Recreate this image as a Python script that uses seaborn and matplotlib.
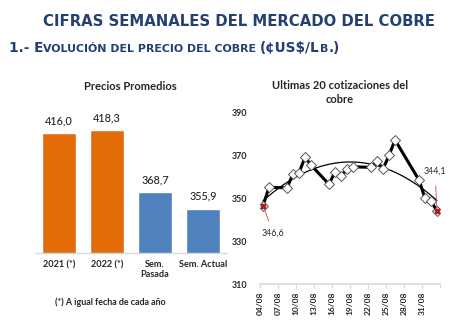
import numpy as np
import pandas as pd
import matplotlib
matplotlib.use("Agg")
import matplotlib.pyplot as plt
import matplotlib.dates as mdates
import seaborn as sns

# ---------------- data ----------------
bar_categories = ["2021 (*)", "2022 (*)", "Sem.\nPasada", "Sem. Actual"]
bar_values = [416.0, 418.3, 368.7, 355.9]
bar_labels = ["416,0", "418,3", "368,7", "355,9"]

quote_dates = ["2022-08-04", "2022-08-05", "2022-08-08", "2022-08-09", "2022-08-10",
               "2022-08-11", "2022-08-12", "2022-08-15", "2022-08-16", "2022-08-17",
               "2022-08-18", "2022-08-19", "2022-08-22", "2022-08-23", "2022-08-24",
               "2022-08-25", "2022-08-26", "2022-08-30", "2022-08-31", "2022-09-01",
               "2022-09-02"]
quote_values = [346.6, 355.2, 355.0, 361.4, 362.0,
                369.2, 365.6, 356.6, 362.5, 360.5,
                363.7, 364.8, 364.5, 367.6, 363.7,
                370.1, 377.3, 358.6, 350.1, 348.8,
                344.1]
first_label = "346,6"
last_label = "344,1"
y_ticks = [310, 330, 350, 370, 390]

# ---------------- style ----------------
sns.set_theme(style="white")
plt.rcParams['font.family'] = ['Lato', 'DejaVu Sans']

W, H = 477, 327
fig = plt.figure(figsize=(W / 100, H / 100), dpi=100)
fig.patch.set_facecolor("white")

title_blue = "#243F72"
text_dark = "#262626"

# ---------------- header ----------------
fig.text(238.5 / W, 1 - 22 / H, "CIFRAS SEMANALES DEL MERCADO DEL COBRE",
         ha="center", va="center", fontsize=10.7, fontweight="bold",
         color=title_blue, family="DejaVu Sans")

# small caps subtitle built from pieces
pieces = [("1.- E", 9.8), ("VOLUCIÓN DEL PRECIO DEL COBRE ", 7.9),
          ("(¢US$/L", 9.8), ("B", 7.9), (".)", 9.8)]
renderer = fig.canvas.get_renderer()
x_px = 9
base_y = 1 - 52 / H
for txt, sz in pieces:
    t = fig.text(x_px / W, base_y, txt, ha="left", va="baseline", fontsize=sz,
                 fontweight="bold", color=title_blue, family="DejaVu Sans")
    bb = t.get_window_extent(renderer=renderer)
    x_px += bb.width

# ---------------- left: bar chart ----------------
axL = fig.add_axes([35 / W, 1 - 253 / H, 192 / W, 153 / H])
df_bar = pd.DataFrame({"cat": bar_categories, "val": bar_values})
bar_colors = ["#E46C0A", "#E46C0A", "#4F81BD", "#4F81BD"]
sns.barplot(data=df_bar, x="cat", y="val", hue="cat", palette=bar_colors,
            legend=False, width=0.69, ax=axL, saturation=1)
axL.set_ylim(320.6, 442.2)
axL.set_xlim(-0.5, 3.5)
axL.set_xlabel("")
axL.set_ylabel("")
axL.set_yticks([])
for s in ["top", "right", "left"]:
    axL.spines[s].set_visible(False)
axL.spines["bottom"].set_color("#D9D9D9")
axL.spines["bottom"].set_linewidth(1)
axL.tick_params(axis="x", length=0, pad=5, labelsize=6.6, labelcolor=text_dark)
for lab in axL.get_xticklabels():
    lab.set_fontweight("bold")
for i, (v, lab) in enumerate(zip(bar_values, bar_labels)):
    axL.annotate(lab, (i, v), xytext=(0, 5), textcoords="offset points",
                 ha="center", va="bottom", fontsize=7.8, color=text_dark,
                 fontweight="medium")
fig.text(130 / W, 1 - 86 / H, "Precios Promedios", ha="center", va="center",
         fontsize=8, fontweight="bold", color=text_dark)
fig.text(110 / W, 1 - 302 / H, "(*) A igual fecha de cada año", ha="center",
         va="center", fontsize=6.4, fontweight="bold", color=text_dark)

# ---------------- right: line chart ----------------
axR = fig.add_axes([260 / W, 1 - 284.3 / H, 180 / W, 171.6 / H])
dates = pd.to_datetime(quote_dates) + pd.Timedelta(hours=12)
df_line = pd.DataFrame({"fecha": dates, "precio": quote_values})

# polynomial (2nd order) trend line
xnum = mdates.date2num(df_line["fecha"])
coef = np.polyfit(xnum - xnum[0], df_line["precio"], 2)
xs = np.linspace(xnum[0], xnum[-1], 200)
axR.plot(mdates.num2date(xs), np.polyval(coef, xs - xnum[0]), color="black", lw=0.9,
         zorder=2)

sns.lineplot(data=df_line, x="fecha", y="precio", ax=axR, color="black", lw=2.2,
             marker="D", markersize=5.4, markerfacecolor="white",
             markeredgecolor="#555555", markeredgewidth=0.7, zorder=3)

# highlighted first / last points
ends = df_line.iloc[[0, -1]]
axR.scatter(ends["fecha"], ends["precio"], marker="s", s=9, color="#B02020", zorder=4)
axR.annotate(first_label, (ends["fecha"].iloc[0], ends["precio"].iloc[0]),
             xytext=(10, -27), textcoords="offset pixels", ha="center", va="center",
             fontsize=6.4, color=text_dark,
             arrowprops=dict(arrowstyle="-", color="#C0504D", lw=0.6,
                             shrinkA=3, shrinkB=1))
axR.annotate(last_label, (ends["fecha"].iloc[1], ends["precio"].iloc[1]),
             xytext=(-2, 40), textcoords="offset pixels", ha="center", va="center",
             fontsize=6.4, color=text_dark,
             arrowprops=dict(arrowstyle="-", color="#C0504D", lw=0.6,
                             shrinkA=5, shrinkB=1))

axR.set_ylim(310, 390)
axR.set_yticks(y_ticks)
axR.set_xlim(pd.Timestamp("2022-08-04"), pd.Timestamp("2022-09-03"))
tick_dates = pd.date_range("2022-08-04", "2022-09-03", freq="3D")
axR.set_xticks(tick_dates)
axR.set_xticklabels([d.strftime("%d/%m") if d < pd.Timestamp("2022-09-03") else ""
                     for d in tick_dates], rotation=90)
axR.set_xlabel("")
axR.set_ylabel("")
for s in ["top", "right", "left"]:
    axR.spines[s].set_visible(False)
axR.spines["bottom"].set_color("#D9D9D9")
axR.tick_params(axis="x", direction="out", length=3, width=0.8, color="#D9D9D9",
                pad=2, labelsize=6, labelcolor=text_dark, bottom=True)
axR.tick_params(axis="y", length=0, pad=9, labelsize=6.4, labelcolor=text_dark)
for lab in axR.get_xticklabels() + axR.get_yticklabels():
    lab.set_fontweight("bold")
fig.text(340 / W, 1 - 92.5 / H, "Ultimas 20 cotizaciones del\ncobre", ha="center",
         va="center", fontsize=8, fontweight="bold", color=text_dark,
         linespacing=1.35)

fig.savefig("out.png", dpi=100)
